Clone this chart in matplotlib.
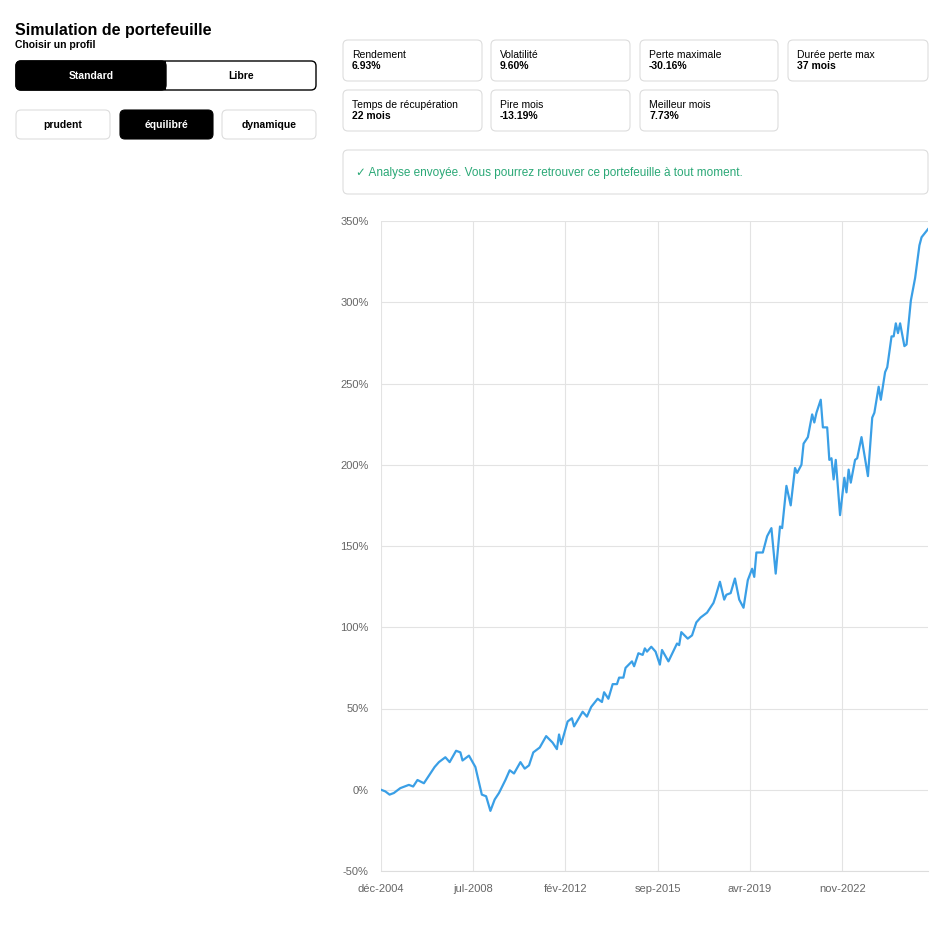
import matplotlib
matplotlib.use("Agg")
import matplotlib.pyplot as plt
from matplotlib.patches import FancyBboxPatch

plt.rcParams["font.family"] = ["Liberation Sans", "DejaVu Sans"]

# months since déc-2004, cumulative performance (%)
months = [0, 2, 4, 6, 9, 11, 13, 15, 17, 20, 25, 27, 30, 32, 35, 37, 38, 41, 44, 47, 49, 51, 53, 55, 58,
          60, 62, 65, 67, 69, 71, 74, 77, 80, 82, 83, 84, 87, 89, 90, 94, 96, 98, 101, 103,
          104, 106, 108, 110, 111, 113, 114, 117, 118, 120, 122, 123, 124, 126, 128, 130, 131, 134, 138, 139,
          140, 143, 145, 147, 149, 152, 155, 156, 158, 160, 161, 163, 165, 167, 169, 171, 173, 174, 175, 178,
          180, 182, 184, 186, 187, 189, 191, 193, 194, 196, 197, 199, 201, 202, 203, 205, 206, 208, 209, 210,
          211, 212, 214, 216, 217, 218, 219, 221, 222, 224, 227, 229, 230, 232, 233, 235, 236, 238, 239, 240,
          241, 242, 244, 245, 247, 249, 251, 252, 255]
perf = [0, -1, -3, -2, 1, 2, 3, 2, 6, 4, 14, 17, 20, 17, 24, 23, 18, 21, 14, -3, -4, -13, -6, -2, 6,
        12, 10, 17, 13, 15, 23, 26, 33, 29, 25, 34, 28, 42, 44, 39, 48, 45, 51, 56, 54,
        60, 56, 65, 65, 69, 69, 75, 79, 76, 84, 83, 87, 85, 88, 85, 77, 86, 79, 90, 89,
        97, 93, 95, 103, 106, 109, 115, 119, 128, 117, 120, 121, 130, 117, 112, 129, 136, 131, 146, 146,
        156, 161, 133, 162, 161, 187, 175, 198, 195, 200, 213, 217, 231, 226, 232, 240, 223, 223, 203, 204,
        191, 203, 169, 192, 183, 197, 189, 203, 204, 217, 193, 229, 232, 248, 240, 257, 260, 279, 279, 287,
        281, 287, 273, 274, 301, 315, 335, 340, 345]
tick_months = [0, 43, 86, 129, 172, 215]
tick_labels = ["déc-2004", "jul-2008", "fév-2012", "sep-2015", "avr-2019", "nov-2022"]
y_ticks = [-50, 0, 50, 100, 150, 200, 250, 300, 350]

stat_names = ["Rendement", "Volatilité", "Perte maximale", "Durée perte max",
              "Temps de récupération", "Pire mois", "Meilleur mois"]
stat_values = ["6.93%", "9.60%", "-30.16%", "37 mois", "22 mois", "-13.19%", "7.73%"]

W, H = 940, 931
fig = plt.figure(figsize=(W / 100, H / 100), dpi=100)

# page overlay in pixel coords
ui = fig.add_axes([0, 0, 1, 1])
ui.set_xlim(0, W)
ui.set_ylim(H, 0)
ui.axis("off")

def box(x0, y0, x1, y1, fc="white", ec="#dddddd", r=5, lw=0.8):
    ui.add_patch(FancyBboxPatch((x0, y0), x1 - x0, y1 - y0,
                                boxstyle="round,pad=0,rounding_size=%d" % r,
                                fc=fc, ec=ec, lw=lw))

ui.text(15, 31, "Simulation de portefeuille", fontsize=11.5, fontweight="bold", va="center")
ui.text(15, 45, "Choisir un profil", fontsize=7.5, fontweight="bold", va="center")

box(16, 61, 316, 90, fc="white", ec="black", r=5, lw=1)
box(16, 61, 166, 90, fc="black", ec="black", r=5, lw=1)
ui.add_patch(plt.Rectangle((150, 61), 16, 29, fc="black", ec="none"))
ui.text(91, 76, "Standard", color="white", fontsize=7.5, fontweight="bold", ha="center", va="center")
ui.text(241, 76, "Libre", color="black", fontsize=7.5, fontweight="bold", ha="center", va="center")

profiles = [("prudent", 16, 110, False), ("équilibré", 120, 213, True), ("dynamique", 222, 316, False)]
for name, x0, x1, active in profiles:
    box(x0, 110, x1, 139, fc="black" if active else "white", ec="black" if active else "#dddddd")
    ui.text((x0 + x1) / 2, 125, name, color="white" if active else "black", fontsize=7.5,
            fontweight="bold", ha="center", va="center")

card_x = [(343, 482), (491, 630), (640, 778), (788, 928)]
for i, (nm, val) in enumerate(zip(stat_names, stat_values)):
    x0, x1 = card_x[i % 4]
    y0 = 40 if i < 4 else 90
    box(x0, y0, x1, y0 + 41)
    ui.text(x0 + 9, y0 + 15, nm, fontsize=7.5, va="center")
    ui.text(x0 + 9, y0 + 26, val, fontsize=7.5, fontweight="bold", va="center")

box(343, 150, 928, 194)
ui.text(356, 173, "✓ Analyse envoyée. Vous pourrez retrouver ce portefeuille à tout moment.",
        fontsize=8.5, color="#2aa876", va="center")

# chart
ax = fig.add_axes([381 / W, 1 - 871 / H, (928 - 381) / W, (871 - 221) / H])
ax.plot(months, perf, color="#3a9fe6", lw=1.6)
ax.set_xlim(0, 255)
ax.set_ylim(-50, 350)
ax.set_xticks(tick_months)
ax.set_xticklabels(tick_labels)
ax.set_yticks(y_ticks)
ax.set_yticklabels(["%d%%" % v for v in y_ticks])
ax.grid(color="#e3e3e3", lw=0.8)
ax.set_axisbelow(True)
for s in ["top", "right", "left"]:
    ax.spines[s].set_visible(False)
ax.spines["bottom"].set_color("#dddddd")
ax.tick_params(labelsize=8, colors="#666666", length=0)
ax.tick_params(axis="x", pad=9)
ax.tick_params(axis="y", pad=9)
ax.patch.set_alpha(0)

fig.savefig("out.png", dpi=100)
